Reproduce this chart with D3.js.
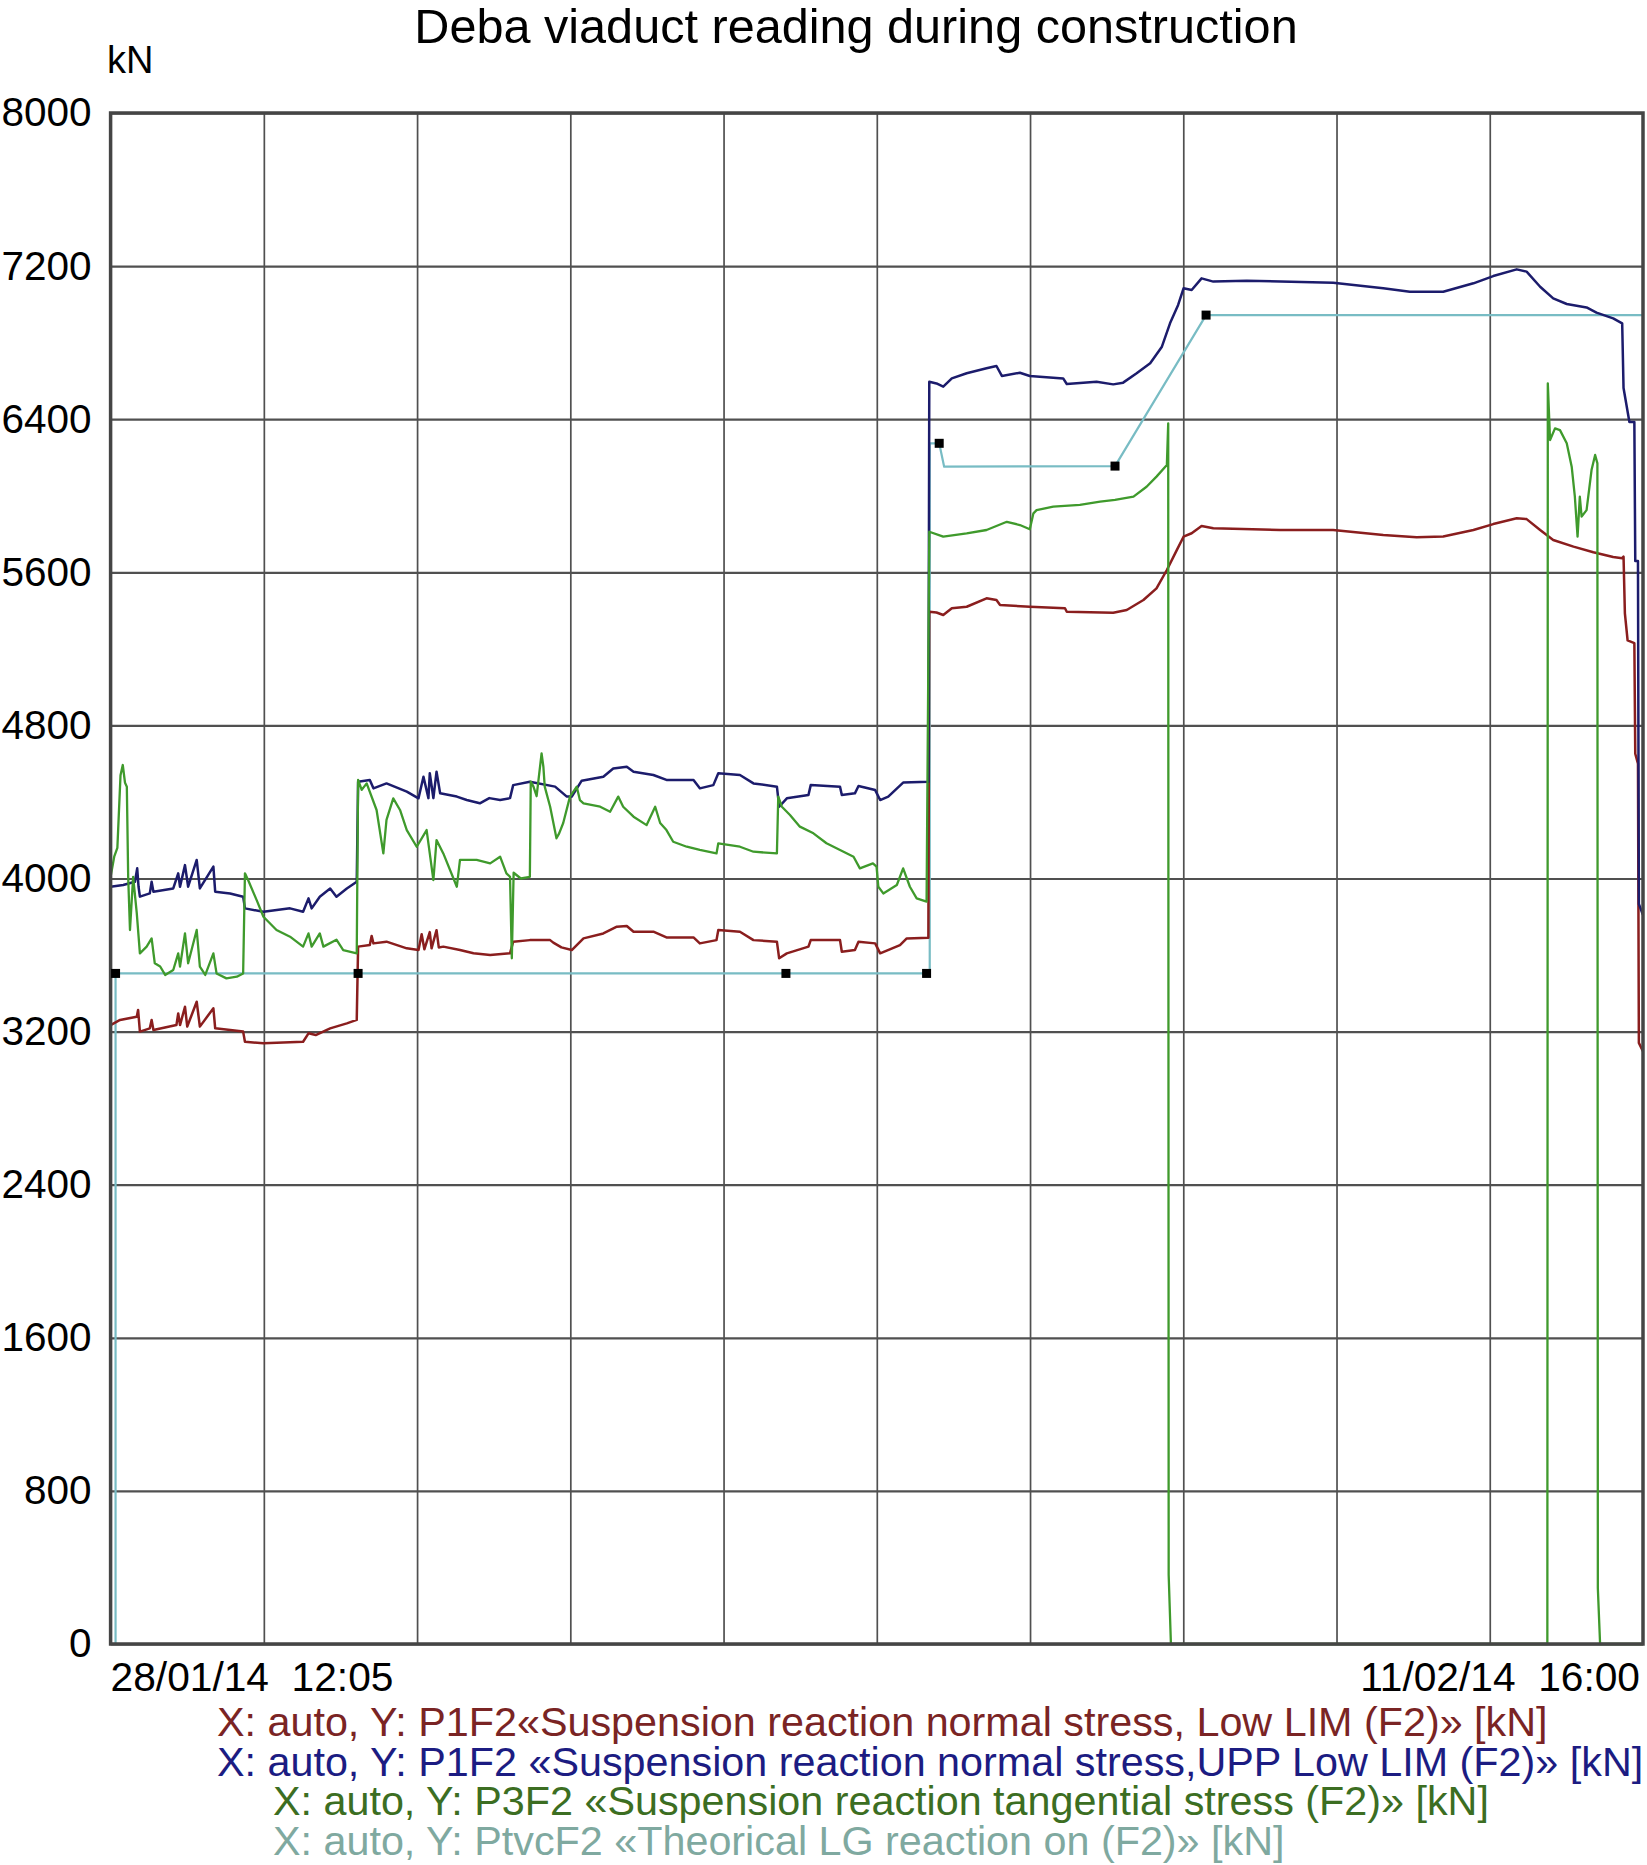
<!DOCTYPE html>
<html>
<head>
<meta charset="utf-8">
<script src="https://cdn.jsdelivr.net/npm/d3@7"></script>
<style>
  html, body { margin: 0; padding: 0; background: #fff; }
  svg { display: block; font-family: "Liberation Sans", Arial, sans-serif; }
</style>
</head>
<body>
<svg class="deba-chart" width="1647" height="1865"></svg>
<script>
// time axis: hours counted from the first reading
var startTime = new Date(2014, 0, 28, 12, 5);
var endTime = new Date(2014, 1, 11, 16, 0);

var yTicks = [0, 800, 1600, 2400, 3200, 4000, 4800, 5600, 6400, 7200, 8000];
var xLabels = ["28/01/14  12:05", "11/02/14  16:00"];

// P1F2 Low LIM (red)
var lowHours = [0, 2.1, 5.8, 6.1, 6.5, 8.7, 9.1, 9.5, 14.6, 15.0, 15.4, 16.5, 17.0, 19.1, 19.8, 22.8, 23.2, 29.4, 29.8, 33.9,
  42.7, 43.9, 45.5, 48.7, 52.4, 54.6, 54.9, 57.5, 57.9, 58.3, 61.2, 65.7, 68.3, 69.0, 69.6, 70.8, 71.2, 72.3, 72.8, 73.8,
  77.5, 80.5, 84.2, 88.6, 89.3, 93.0, 97.5, 98.2, 100.0, 102.3, 104.9, 109.3, 112.3, 114.5, 116.0, 120.4, 123.3, 129.3, 130.7, 134.4,
  134.8, 139.6, 142.6, 147.8, 148.3, 150.0, 154.8, 155.3, 161.8, 162.2, 165.1, 165.9, 169.6, 170.7, 175.1, 176.6, 181.4, 181.6, 183.2, 184.7,
  186.6, 189.9, 194.3, 196.5, 197.3, 203.9, 211.7, 212.1, 222.4, 225.4, 229.1, 232.0, 234.3, 236.5, 238.0, 239.8, 242.0, 244.6, 259.4, 271.2,
  282.3, 289.7, 295.6, 302.3, 306.7, 311.9, 314.1, 317.1, 320.0, 324.5, 328.9, 333.3, 335.3, 335.6, 335.9, 336.5, 338.0, 338.2, 338.8, 339.0, 339.9];
var lowValues = [3234, 3261, 3278, 3313, 3200, 3217, 3261, 3208, 3234, 3295, 3234, 3330, 3226, 3356, 3226, 3322, 3217, 3200, 3147, 3139,
  3147, 3191, 3182, 3217, 3243, 3261, 3644, 3652, 3700, 3661, 3670, 3635, 3626, 3709, 3630, 3720, 3635, 3730, 3640, 3644,
  3626, 3609, 3600, 3609, 3670, 3678, 3678, 3665, 3640, 3626, 3687, 3713, 3748, 3752, 3722, 3722, 3692, 3692, 3661, 3678,
  3731, 3722, 3678, 3670, 3583, 3609, 3644, 3678, 3678, 3617, 3626, 3670, 3661, 3609, 3652, 3687, 3690, 5394, 5390, 5377,
  5412, 5420, 5464, 5455, 5429, 5420, 5412, 5394, 5389, 5403, 5455, 5516, 5612, 5716, 5786, 5804, 5842, 5830, 5821, 5821,
  5795, 5783, 5787, 5821, 5852, 5882, 5878, 5821, 5769, 5734, 5705, 5680, 5674, 5682, 5386, 5244, 5230, 4652, 4600, 3141, 3097];

// P1F2 UPP Low LIM (navy)
var uppHours = [0, 2.8, 5.4, 5.9, 6.2, 6.5, 8.7, 9.1, 9.5, 13.9, 15.0, 15.4, 16.5, 17.2, 19.1, 19.8, 22.8, 23.2, 26.5, 29.4,
  29.8, 33.9, 39.8, 42.7, 43.9, 44.6, 46.4, 48.7, 50.1, 52.4, 54.6, 54.9, 57.5, 58.3, 61.2, 65.7, 68.3, 69.4, 70.5, 70.8,
  71.6, 72.3, 73.1, 76.8, 79.0, 81.9, 84.0, 86.4, 88.6, 89.3, 93.0, 98.6, 101.2, 102.3, 104.5, 109.3, 111.5, 114.5, 116.0, 120.4,
  123.3, 129.3, 130.7, 133.7, 134.8, 139.6, 142.6, 147.8, 148.3, 150.0, 154.8, 155.3, 161.8, 162.2, 165.1, 165.9, 169.6, 170.7, 172.5, 175.8,
  181.4, 181.6, 183.2, 184.7, 186.6, 189.9, 194.3, 196.5, 197.7, 201.7, 203.9, 211.3, 212.1, 218.7, 222.4, 224.6, 227.6, 230.6, 233.2, 235.0,
  236.8, 238.0, 239.8, 242.0, 244.6, 252.0, 271.2, 282.3, 288.2, 295.6, 302.3, 306.7, 311.9, 314.1, 317.1, 320.0, 323.0, 327.4, 329.6, 333.3,
  335.3, 335.6, 336.9, 338.0, 338.2, 338.8, 339.0, 339.9];
var uppValues = [3957, 3966, 3983, 4053, 3957, 3905, 3922, 3983, 3931, 3948, 4027, 3957, 4070, 3957, 4097, 3948, 4062, 3931, 3922, 3905,
  3844, 3826, 3844, 3826, 3896, 3844, 3905, 3948, 3905, 3948, 3983, 4506, 4515, 4471, 4497, 4454, 4419, 4532, 4420, 4550,
  4420, 4558, 4445, 4428, 4410, 4393, 4420, 4410, 4420, 4488, 4506, 4480, 4428, 4428, 4511, 4532, 4575, 4584, 4558, 4541,
  4515, 4515, 4471, 4488, 4550, 4541, 4497, 4480, 4375, 4419, 4436, 4488, 4480, 4436, 4445, 4483, 4462, 4410, 4428, 4501,
  4506, 6596, 6587, 6570, 6613, 6640, 6666, 6678, 6626, 6643, 6626, 6613, 6584, 6596, 6582, 6591, 6640, 6692, 6779, 6901,
  6997, 7084, 7075, 7136, 7119, 7124, 7113, 7084, 7066, 7066, 7110, 7148, 7183, 7171, 7092, 7031, 7002, 6984, 6957, 6927,
  6901, 6563, 6385, 6385, 5659, 5659, 3867, 3810];

// P3F2 tangential (green)
var tanHours = [0, 0.8, 1.5, 2.2, 2.7, 3.2, 3.6, 3.9, 4.3, 4.7, 5.0, 5.8, 6.5, 8.0, 9.1, 9.8, 11.0, 12.1, 13.9, 15.0,
  15.4, 16.5, 17.2, 19.1, 19.8, 21.0, 22.8, 23.5, 25.7, 28.0, 29.4, 29.8, 30.5, 32.4, 33.9, 36.8, 39.8, 42.7, 43.9, 44.6,
  46.4, 47.2, 50.1, 51.6, 54.6, 54.9, 55.7, 56.8, 59.0, 60.5, 61.2, 62.7, 64.2, 65.7, 67.9, 70.1, 71.6, 72.3, 73.8, 76.8,
  77.5, 81.2, 84.2, 86.4, 87.8, 88.6, 89.0, 89.4, 91.0, 93.0, 93.2, 93.8, 94.5, 95.6, 96.0, 96.3, 97.5, 98.9, 99.5, 100.4,
  101.9, 103.4, 104.1, 104.9, 108.6, 110.8, 112.6, 113.7, 116.0, 118.9, 120.8, 121.9, 123.3, 124.8, 127.8, 130.7, 134.4, 134.8, 139.6, 142.6,
  147.8, 148.1, 148.9, 150.7, 152.9, 155.9, 158.8, 161.8, 164.8, 166.2, 169.1, 169.9, 170.3, 171.4, 174.4, 175.8, 177.3, 178.8, 181.0, 181.6,
  184.7, 189.9, 194.3, 198.8, 201.7, 203.9, 204.7, 205.4, 209.1, 215.0, 219.5, 222.8, 226.9, 229.8, 232.0, 234.3, 234.6, 234.7, 235.2, 318.7,
  318.8, 319.3, 320.4, 321.5, 323.0, 324.1, 324.8, 325.4, 325.9, 326.3, 327.4, 328.5, 329.3, 329.8, 329.9, 330.4, 339.9];
var tanValues = [4009, 4114, 4160, 4540, 4593, 4500, 4480, 4009, 3731, 3890, 4009, 3820, 3609, 3644, 3687, 3557, 3540, 3496, 3522, 3609,
  3540, 3713, 3557, 3731, 3540, 3496, 3609, 3504, 3478, 3487, 3504, 4027, 3992, 3887, 3800, 3731, 3696, 3644, 3713, 3644,
  3713, 3644, 3680, 3626, 3609, 4515, 4463, 4497, 4358, 4131, 4306, 4419, 4358, 4253, 4166, 4253, 3992, 4201, 4131, 3957,
  4097, 4097, 4079, 4114, 4027, 4009, 3583, 4030, 4000, 4009, 4506, 4480, 4430, 4654, 4584, 4480, 4375, 4210, 4236, 4290,
  4428, 4480, 4410, 4393, 4375, 4349, 4428, 4375, 4323, 4279, 4375, 4290, 4253, 4192, 4166, 4149, 4131, 4184, 4166, 4140,
  4131, 4428, 4375, 4332, 4271, 4236, 4184, 4149, 4114, 4053, 4079, 4062, 3957, 3922, 3966, 4053, 3957, 3896, 3879, 5812,
  5786, 5803, 5821, 5864, 5847, 5825, 5908, 5925, 5943, 5952, 5969, 5978, 5995, 6047, 6100, 6161, 6378, 362, 0, 0,
  6587, 6291, 6352, 6343, 6274, 6152, 5995, 5786, 5995, 5891, 5925, 6134, 6213, 6169, 291, 0, 0];

// PtvcF2 theoretical reaction (teal) and its set points
var theoHours = [0, 1.1, 1.1, 54.9, 149.8, 181.0, 181.7, 181.7, 183.8, 184.9, 222.8, 243.0, 339.9];
var theoValues = [0, 0, 3504, 3504, 3504, 3504, 3504, 6274, 6274, 6152, 6155, 6944, 6944];
var markHours = [1.1, 54.9, 149.8, 181.0, 183.8, 222.8, 243.0];
var markValues = [3504, 3504, 3504, 3504, 6274, 6155, 6944];

var legendTexts = [
  "X: auto, Y: P1F2\u00abSuspension reaction normal stress, Low LIM (F2)\u00bb [kN]",
  "X: auto, Y: P1F2 \u00abSuspension reaction normal stress,UPP Low LIM (F2)\u00bb [kN]",
  "X: auto, Y: P3F2 \u00abSuspension reaction tangential stress (F2)\u00bb [kN]",
  "X: auto, Y: PtvcF2 \u00abTheorical LG reaction on (F2)\u00bb [kN]"
];
var legendColors = ["#7a2424", "#1c1c82", "#3c6e22", "#7fa9a0"];

var svg = d3.select(".deba-chart");
var plotLeft = 110.6, plotRight = 1643, plotTop = 113, plotBottom = 1644;

var x = d3.scaleTime().domain([startTime, endTime]).range([plotLeft, plotRight]);
var y = d3.scaleLinear().domain([0, 8000]).range([plotBottom, plotTop]);

function toDate(h) { return new Date(+startTime + h * 3600e3); }
function zipSeries(hours, values) {
  return hours.map(function(h, i) { return { t: toDate(h), v: values[i] }; });
}

// vertical grid: ten equal slices of the period
var gridDates = d3.range(1, 10).map(function(i) {
  return new Date(+startTime + i * (endTime - startTime) / 10);
});

var xGrid = svg.append("g")
  .attr("transform", "translate(0," + plotBottom + ")")
  .call(d3.axisBottom(x).tickValues(gridDates).tickSize(-(plotBottom - plotTop)).tickFormat(""));
xGrid.select(".domain").remove();
xGrid.selectAll("line").attr("stroke", "#505050").attr("stroke-width", 1.7);

var yAxis = svg.append("g")
  .attr("transform", "translate(" + plotLeft + ",0)")
  .call(d3.axisLeft(y).tickValues(yTicks).tickSize(-(plotRight - plotLeft)).tickPadding(19).tickFormat(d3.format("d")));
yAxis.select(".domain").remove();
yAxis.selectAll("line").attr("stroke", "#505050").attr("stroke-width", 2.2);
yAxis.selectAll("text")
  .attr("fill", "#000")
  .style("font-size", "40.5px")
  .style("font-family", "'Liberation Sans', Arial, sans-serif");

var line = d3.line()
  .x(function(d) { return x(d.t); })
  .y(function(d) { return y(d.v); });

var series = [
  { data: zipSeries(theoHours, theoValues), color: "#78bcc4", width: 2.2 },
  { data: zipSeries(lowHours, lowValues), color: "#8a1e1e", width: 2.5 },
  { data: zipSeries(uppHours, uppValues), color: "#1c1c6c", width: 2.5 },
  { data: zipSeries(tanHours, tanValues), color: "#3f9a2c", width: 2.3 }
];

svg.append("g")
  .attr("class", "lines")
  .selectAll("path")
  .data(series)
  .enter().append("path")
  .attr("d", function(d) { return line(d.data); })
  .attr("fill", "none")
  .attr("stroke", function(d) { return d.color; })
  .attr("stroke-width", function(d) { return d.width; })
  .attr("stroke-linejoin", "round");

// frame on top so readings at zero sit under the axis line
svg.append("rect")
  .attr("x", plotLeft).attr("y", plotTop)
  .attr("width", plotRight - plotLeft).attr("height", plotBottom - plotTop)
  .attr("fill", "none").attr("stroke", "#454545").attr("stroke-width", 3.5);

svg.append("g")
  .attr("class", "marks")
  .selectAll("rect")
  .data(zipSeries(markHours, markValues))
  .enter().append("rect")
  .attr("x", function(d) { return x(d.t) - 4.5; })
  .attr("y", function(d) { return y(d.v) - 4.5; })
  .attr("width", 9).attr("height", 9)
  .attr("fill", "#000");

// texts
svg.append("text")
  .attr("x", 856).attr("y", 43)
  .attr("text-anchor", "middle")
  .style("font-size", "48.6px")
  .text("Deba viaduct reading during construction");

svg.append("text")
  .attr("x", 107).attr("y", 73)
  .style("font-size", "38px")
  .text("kN");

svg.append("text")
  .attr("x", plotLeft).attr("y", 1691)
  .attr("xml:space", "preserve")
  .style("font-size", "40.7px")
  .text(xLabels[0]);

svg.append("text")
  .attr("x", plotRight - 3).attr("y", 1691)
  .attr("text-anchor", "end")
  .attr("xml:space", "preserve")
  .style("font-size", "40.7px")
  .text(xLabels[1]);

var legendX = [217, 217, 273, 273];
svg.append("g")
  .attr("class", "legend")
  .selectAll("text")
  .data(legendTexts)
  .enter().append("text")
  .attr("x", function(d, i) { return legendX[i]; })
  .attr("y", function(d, i) { return 1736 + i * 39.5; })
  .attr("fill", function(d, i) { return legendColors[i]; })
  .style("font-size", "41.3px")
  .text(function(d) { return d; });
</script>
</body>
</html>
